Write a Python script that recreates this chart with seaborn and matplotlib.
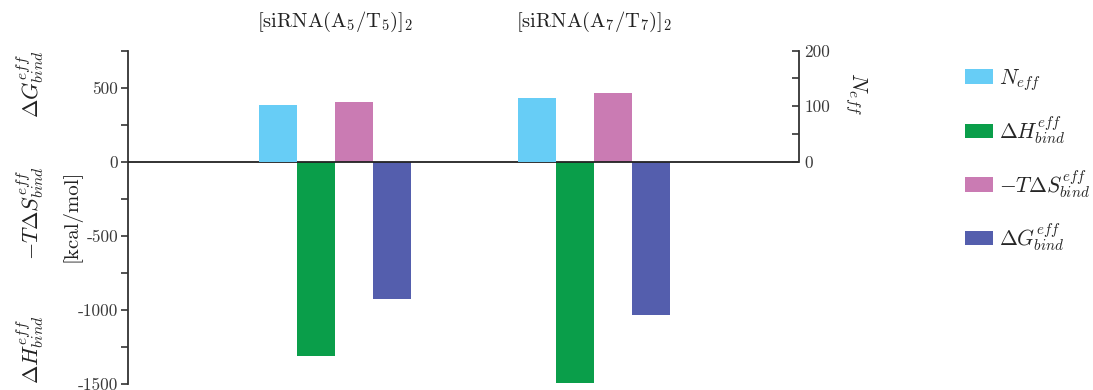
import matplotlib
matplotlib.use("Agg")
import matplotlib.pyplot as plt
from matplotlib.patches import Patch
from matplotlib.ticker import MultipleLocator, FixedLocator
import numpy as np
import pandas as pd
import seaborn as sns

# ---- data ----
complexes = ["A5T5", "A7T7"]
complex_titles = [r"$[\mathrm{siRNA(A_5/T_5)}]_2$", r"$[\mathrm{siRNA(A_7/T_7)}]_2$"]
quantities = ["N", "dH", "mTdS", "dG"]
quantity_labels = [r"$N_{eff}$", r"$\Delta H^{eff}_{bind}$",
                   r"$-T\Delta S^{eff}_{bind}$", r"$\Delta G^{eff}_{bind}$"]
n_eff = [102, 115]                 # count (right axis)
dH_bind = [-1308, -1490]           # kcal/mol
mTdS_bind = [401, 461]             # kcal/mol
dG_bind = [-922, -1036]            # kcal/mol
colors = ["#67CDF6", "#0A9E4A", "#CA7BB3", "#545EAD"]

left_ticks = [-1500, -1000, -500, 0, 500]
right_ticks = [0, 100, 200]

# ---- style ----
sns.set_theme(style="white")
plt.rcParams["font.family"] = "serif"
plt.rcParams["font.serif"] = ["cmr10"]
plt.rcParams["mathtext.fontset"] = "cm"
plt.rcParams["axes.unicode_minus"] = False
plt.rcParams["axes.formatter.use_mathtext"] = False

palette = dict(zip(quantities, colors))

energy_df = pd.DataFrame({
    "complex": complexes * 3,
    "quantity": ["dH"] * 2 + ["mTdS"] * 2 + ["dG"] * 2,
    "value": dH_bind + mTdS_bind + dG_bind,
})
count_df = pd.DataFrame({"complex": complexes, "quantity": ["N"] * 2, "value": n_eff})

fig = plt.figure(figsize=(10.93, 3.90), dpi=100)
ax = fig.add_axes([0.1171, 0.0146, 0.6139, 0.8559])
ax2 = ax.twinx()

bar_width = 0.587
sns.barplot(data=energy_df, x="complex", y="value", hue="quantity",
            order=complexes, hue_order=quantities, palette=palette,
            dodge=True, width=bar_width, saturation=1, legend=False,
            errorbar=None, ax=ax, linewidth=0)
sns.barplot(data=count_df, x="complex", y="value", hue="quantity",
            order=complexes, hue_order=quantities, palette=palette,
            dodge=True, width=bar_width, saturation=1, legend=False,
            errorbar=None, ax=ax2, linewidth=0)

xlim = (-0.799, 1.792)
ax.set_xlim(*xlim)
ax2.set_xlim(*xlim)
ax.set_ylim(-1500, 750)
ax2.set_ylim(-400, 200)

spine_col = "#333333"
tick_col = "#3a3a3a"

# left axis
ax.yaxis.set_major_locator(FixedLocator(left_ticks))
ax.yaxis.set_minor_locator(MultipleLocator(250))
ax.set_yticklabels([str(t) for t in left_ticks])
ax.tick_params(axis="y", which="both", direction="out", left=True, color=spine_col,
               width=1.2, length=5, labelsize=12.5, labelcolor=tick_col, pad=2)
ax.set_xticks([])
ax.set_xlabel("")
ax.set_ylabel("")
for s in ["top", "bottom", "right"]:
    ax.spines[s].set_visible(False)
ax.spines["left"].set_color(spine_col)
ax.spines["left"].set_linewidth(1.3)
ax.axhline(0, color="#222222", lw=1.3, zorder=5)

# right axis
ax2.yaxis.set_major_locator(FixedLocator(right_ticks))
ax2.yaxis.set_minor_locator(FixedLocator([50, 150]))
ax2.set_yticklabels([str(t) for t in right_ticks])
ax2.tick_params(axis="y", which="both", direction="in", right=True, color=spine_col,
                width=1.2, length=5, labelsize=12.5, labelcolor=tick_col, pad=4)
ax2.set_xticks([])
ax2.set_xlabel("")
ax2.set_ylabel("")
for s in ["top", "bottom", "left"]:
    ax2.spines[s].set_visible(False)
ax2.spines["right"].set_bounds(0, 200)
ax2.spines["right"].set_color(spine_col)
ax2.spines["right"].set_linewidth(1.3)

# group titles
for i, t in enumerate(complex_titles):
    ax.text(i, 1.0 + 29 / 334, t, transform=ax.get_xaxis_transform(),
            ha="center", va="center", fontsize=14.8, color="#222222")

# left axis labels
txt_col = "#222222"
fig.text(30 / 1093, 1 - 84 / 390, quantity_labels[3], rotation=90, ha="center",
         va="center", fontsize=16, color=txt_col)
fig.text(30 / 1093, 1 - 213 / 390, quantity_labels[2], rotation=90, ha="center",
         va="center", fontsize=16, color=txt_col)
fig.text(30 / 1093, 1 - 350 / 390, quantity_labels[1], rotation=90, ha="center",
         va="center", fontsize=16, color=txt_col)
fig.text(72 / 1093, 1 - 216 / 390, "[kcal/mol]", rotation=90, ha="center",
         va="center", fontsize=15, color=txt_col)

# right axis label
fig.text(856 / 1093, 1 - 94 / 390, quantity_labels[0], rotation=-90, ha="center",
         va="center", fontsize=16, color=txt_col)

# legend
handles = [Patch(facecolor=c, edgecolor="none") for c in colors]
fig.legend(handles, quantity_labels, loc="upper left",
           bbox_to_anchor=(965 / 1093, 1 - 67 / 390), frameon=False,
           fontsize=15.5, handlelength=1.3, handleheight=0.65,
           handletextpad=0.3, labelspacing=1.0, borderaxespad=0, borderpad=0)

fig.savefig("out.png", dpi=100)
